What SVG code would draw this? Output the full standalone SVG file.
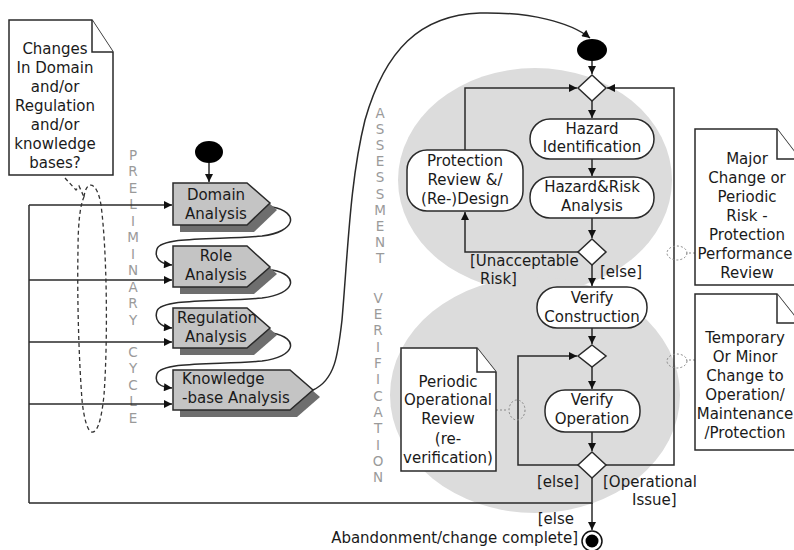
<svg xmlns="http://www.w3.org/2000/svg" width="794" height="550" viewBox="0 0 794 550">
  <style>
    .t { font-family: "DejaVu Sans", "Liberation Sans", sans-serif; font-size: 15px; fill: #1a1a1a; }
    .c { text-anchor: middle; }
    .lane { font-family: "DejaVu Sans", "Liberation Sans", sans-serif; font-size: 13.5px; fill: #9a9a9a; text-anchor: middle; }
    .ln { fill: none; stroke: #2a2a2a; stroke-width: 1.5; }
    .dash { fill: none; stroke: #333; stroke-width: 1.3; stroke-dasharray: 4 3; }
    .dot { fill: none; stroke: #888; stroke-width: 1; stroke-dasharray: 2 2; }
    .act { fill: #ffffff; stroke: #2a2a2a; stroke-width: 1.5; }
    .step { fill: #c4c4c4; stroke: #2a2a2a; stroke-width: 1.5; }
    .shadow { fill: #6e6e6e; }
    .note { fill: #ffffff; stroke: #2a2a2a; stroke-width: 1.5; }
    .dec { fill: #ffffff; stroke: #2a2a2a; stroke-width: 1.5; }
    .region { fill: #dcdcdc; }
  </style>
  <defs>
    <marker id="arr" viewBox="0 0 10 10" refX="10" refY="5" markerWidth="9" markerHeight="8" orient="auto" markerUnits="userSpaceOnUse">
      <path d="M0,0 L10,5 L0,10 z" fill="#111"/>
    </marker>
  </defs>

  <!-- shaded regions behind the assessment and verification activities -->
  <g id="regions">
    <ellipse class="region" cx="535" cy="180" rx="137" ry="112"/>
    <ellipse class="region" cx="535" cy="395" rx="145" ry="118"/>
  </g>

  <!-- vertical phase labels -->
  <g id="phase-preliminary" class="lane">
    <text x="133" y="160">P</text><text x="133" y="176">R</text><text x="133" y="193">E</text>
    <text x="133" y="209">L</text><text x="133" y="226">I</text><text x="133" y="242">M</text>
    <text x="133" y="259">I</text><text x="133" y="275">N</text><text x="133" y="292">A</text>
    <text x="133" y="308">R</text><text x="133" y="325">Y</text>
    <text x="133" y="357">C</text><text x="133" y="373">Y</text><text x="133" y="390">C</text>
    <text x="133" y="406">L</text><text x="133" y="423">E</text>
  </g>
  <g id="phase-assessment" class="lane">
    <text x="380" y="118">A</text><text x="380" y="134">S</text><text x="380" y="150">S</text>
    <text x="380" y="166">E</text><text x="380" y="182">S</text><text x="380" y="199">S</text>
    <text x="380" y="215">M</text><text x="380" y="231">E</text><text x="380" y="247">N</text>
    <text x="380" y="263">T</text>
  </g>
  <g id="phase-verification" class="lane">
    <text x="378" y="303">V</text><text x="378" y="319">E</text><text x="378" y="335">R</text>
    <text x="378" y="352">I</text><text x="378" y="368">F</text><text x="378" y="384">I</text>
    <text x="378" y="401">C</text><text x="378" y="417">A</text><text x="378" y="433">T</text>
    <text x="378" y="450">I</text><text x="378" y="466">O</text><text x="378" y="482">N</text>
  </g>

  <!-- connectors -->
  <g id="connectors">
    <!-- preliminary cycle -->
    <path class="ln" d="M209,163 L209,182" marker-end="url(#arr)"/>
    <path class="ln" d="M272,207 C300,212 296,232 262,236 C220,240 162,236 157,249 C154,258 160,264 172,265" marker-end="url(#arr)"/>
    <path class="ln" d="M272,270 C300,275 296,294 262,298 C220,302 162,298 157,311 C154,320 160,327 172,328" marker-end="url(#arr)"/>
    <path class="ln" d="M272,333 C300,338 296,357 262,361 C220,365 162,361 157,374 C154,383 160,387 172,388" marker-end="url(#arr)"/>
    <path class="ln" d="M29,503 L29,205"/>
    <path class="ln" d="M29,205 L172,205" marker-end="url(#arr)"/>
    <path class="ln" d="M29,280 L172,280" marker-end="url(#arr)"/>
    <path class="ln" d="M29,342 L172,342" marker-end="url(#arr)"/>
    <path class="ln" d="M29,404 L172,404" marker-end="url(#arr)"/>
    <!-- hand-over to assessment -->
    <path class="ln" d="M313,390 C335,380 338,355 342,320 C348,250 350,180 365,120 C385,50 420,15 480,13 C530,12 570,22 590,38" marker-end="url(#arr)"/>
    <!-- assessment flow -->
    <path class="ln" d="M592,61 L592,74" marker-end="url(#arr)"/>
    <path class="ln" d="M465,150 L465,88 L577,88" marker-end="url(#arr)"/>
    <path class="ln" d="M592,465 L674,465 L674,88 L607,88" marker-end="url(#arr)"/>
    <path class="ln" d="M592,101 L592,118" marker-end="url(#arr)"/>
    <path class="ln" d="M592,159 L592,176" marker-end="url(#arr)"/>
    <path class="ln" d="M592,218 L592,238" marker-end="url(#arr)"/>
    <path class="ln" d="M578,252 L465,252 L465,212" marker-end="url(#arr)"/>
    <path class="ln" d="M592,265 L592,286" marker-end="url(#arr)"/>
    <!-- verification flow -->
    <path class="ln" d="M592,328 L592,344" marker-end="url(#arr)"/>
    <path class="ln" d="M592,367 L592,389" marker-end="url(#arr)"/>
    <path class="ln" d="M592,432 L592,451" marker-end="url(#arr)"/>
    <path class="ln" d="M578,465 L518,465 L518,356 L577,356" marker-end="url(#arr)"/>
    <path class="ln" d="M592,478 L592,503 L29,503"/>
    <path class="ln" d="M592,503 L592,530" marker-end="url(#arr)"/>
    <!-- note anchors -->
    <path class="dash" d="M65,178 L76,190 L79,186 L84,197"/>
    <path class="dash" d="M84,197 C86,180 97,180 101,205 C107,250 108,340 104,395 C101,425 96,433 92,432 C88,432 84,420 82,400 C79,360 77,300 78,250 C78,225 80,205 84,197"/>
    <path class="dot" d="M695,253 L686,253"/>
    <ellipse class="dot" cx="677" cy="253" rx="10" ry="7"/>
    <path class="dot" d="M695,360 L686,360"/>
    <ellipse class="dot" cx="677" cy="361" rx="10" ry="7"/>
    <path class="dot" d="M496,410 L508,410"/>
    <ellipse class="dot" cx="517" cy="410" rx="8" ry="10"/>
  </g>

  <!-- notes -->
  <g id="note-changes">
    <path class="note" d="M9,20 L92,20 L113,52 L113,175 L9,175 Z"/>
    <path class="note" d="M92,20 L92,52 L113,52"/>
    <text class="t c" x="55" y="54">Changes</text>
    <text class="t c" x="55" y="73">In Domain</text>
    <text class="t c" x="55" y="92">and/or</text>
    <text class="t c" x="55" y="111">Regulation</text>
    <text class="t c" x="55" y="130">and/or</text>
    <text class="t c" x="55" y="149">knowledge</text>
    <text class="t c" x="55" y="168">bases?</text>
  </g>
  <g id="note-major">
    <path class="note" d="M695,129 L777,129 L800,159 L800,285 L695,285 Z"/>
    <path class="note" d="M777,129 L777,159 L800,159"/>
    <text class="t c" x="747" y="164">Major</text>
    <text class="t c" x="747" y="183">Change or</text>
    <text class="t c" x="747" y="202">Periodic</text>
    <text class="t c" x="747" y="221">Risk -</text>
    <text class="t c" x="747" y="240">Protection</text>
    <text class="t c" x="745" y="259">Performance</text>
    <text class="t c" x="747" y="278">Review</text>
  </g>
  <g id="note-temporary">
    <path class="note" d="M695,294 L777,294 L800,323 L800,450 L695,450 Z"/>
    <path class="note" d="M777,294 L777,323 L800,323"/>
    <text class="t c" x="745" y="343">Temporary</text>
    <text class="t c" x="745" y="362">Or Minor</text>
    <text class="t c" x="745" y="381">Change to</text>
    <text class="t c" x="745" y="400">Operation/</text>
    <text class="t c" x="745" y="419">Maintenance</text>
    <text class="t c" x="745" y="438">/Protection</text>
  </g>
  <g id="note-periodic">
    <path class="note" d="M401,348 L477,348 L496,372 L496,471 L401,471 Z"/>
    <path class="note" d="M477,348 L477,372 L496,372"/>
    <text class="t c" x="448" y="387">Periodic</text>
    <text class="t c" x="448" y="405">Operational</text>
    <text class="t c" x="448" y="424">Review</text>
    <text class="t c" x="448" y="444">(re-</text>
    <text class="t c" x="448" y="463">verification)</text>
  </g>

  <!-- preliminary cycle activities -->
  <g id="start-preliminary">
    <ellipse cx="209" cy="152" rx="14" ry="11" fill="#000"/>
  </g>
  <g id="domain-analysis">
    <path class="shadow" d="M180,190 L254,190 L277,210 L254,232 L180,232 Z"/>
    <path class="step" d="M173,183 L247,183 L270,203 L247,225 L173,225 Z"/>
    <text class="t c" x="216" y="200">Domain</text>
    <text class="t c" x="216" y="219">Analysis</text>
  </g>
  <g id="role-analysis">
    <path class="shadow" d="M180,253 L254,253 L277,274 L254,294 L180,294 Z"/>
    <path class="step" d="M173,246 L247,246 L270,267 L247,287 L173,287 Z"/>
    <text class="t c" x="216" y="261">Role</text>
    <text class="t c" x="216" y="280">Analysis</text>
  </g>
  <g id="regulation-analysis">
    <path class="shadow" d="M180,315 L254,315 L277,335 L254,355 L180,355 Z"/>
    <path class="step" d="M173,308 L247,308 L270,328 L247,348 L173,348 Z"/>
    <text class="t" x="177" y="323">Regulation</text>
    <text class="t c" x="216" y="342">Analysis</text>
  </g>
  <g id="knowledge-analysis">
    <path class="shadow" d="M180,377 L297,377 L320,397 L297,417 L180,417 Z"/>
    <path class="step" d="M173,370 L290,370 L313,390 L290,410 L173,410 Z"/>
    <text class="t" x="182" y="384">Knowledge</text>
    <text class="t" x="182" y="403">-base Analysis</text>
  </g>

  <!-- assessment activities -->
  <g id="start-assessment">
    <ellipse cx="592" cy="50" rx="15" ry="11" fill="#000"/>
  </g>
  <g id="merge-assessment">
    <path class="dec" d="M592,75 L606,88 L592,101 L578,88 Z"/>
  </g>
  <g id="hazard-identification">
    <rect class="act" x="530" y="119" width="124" height="40" rx="20"/>
    <text class="t c" x="592" y="134">Hazard</text>
    <text class="t c" x="592" y="152">Identification</text>
  </g>
  <g id="hazard-risk-analysis">
    <rect class="act" x="530" y="177" width="124" height="41" rx="20"/>
    <text class="t c" x="592" y="192">Hazard&amp;Risk</text>
    <text class="t c" x="592" y="211">Analysis</text>
  </g>
  <g id="protection-review">
    <rect class="act" x="407" y="150" width="116" height="61" rx="20"/>
    <text class="t c" x="465" y="166">Protection</text>
    <text class="t c" x="465" y="185">Review &amp;/</text>
    <text class="t c" x="465" y="204">(Re-)Design</text>
  </g>
  <g id="decision-risk">
    <path class="dec" d="M592,239 L606,252 L592,265 L578,252 Z"/>
    <text class="t" x="470" y="266">[Unacceptable</text>
    <text class="t" x="480" y="284">Risk]</text>
    <text class="t" x="600" y="277">[else]</text>
  </g>

  <!-- verification activities -->
  <g id="verify-construction">
    <rect class="act" x="537" y="287" width="110" height="41" rx="20"/>
    <text class="t c" x="592" y="303">Verify</text>
    <text class="t c" x="592" y="322">Construction</text>
  </g>
  <g id="merge-verification">
    <path class="dec" d="M592,345 L606,356 L592,367 L578,356 Z"/>
  </g>
  <g id="verify-operation">
    <rect class="act" x="545" y="390" width="95" height="42" rx="20"/>
    <text class="t c" x="592" y="405">Verify</text>
    <text class="t c" x="592" y="424">Operation</text>
  </g>
  <g id="decision-operation">
    <path class="dec" d="M592,452 L606,465 L592,478 L578,465 Z"/>
    <text class="t" x="537" y="487">[else]</text>
    <text class="t" x="603" y="487">[Operational</text>
    <text class="t" x="632" y="505">Issue]</text>
  </g>
  <g id="end-node">
    <circle cx="592" cy="541" r="10" fill="#fff" stroke="#111" stroke-width="1.5"/>
    <circle cx="592" cy="541" r="6.5" fill="#000"/>
    <text class="t" x="574" y="524" text-anchor="end">[else</text>
    <text class="t" x="578" y="543" text-anchor="end">Abandonment/change complete]</text>
  </g>
</svg>
